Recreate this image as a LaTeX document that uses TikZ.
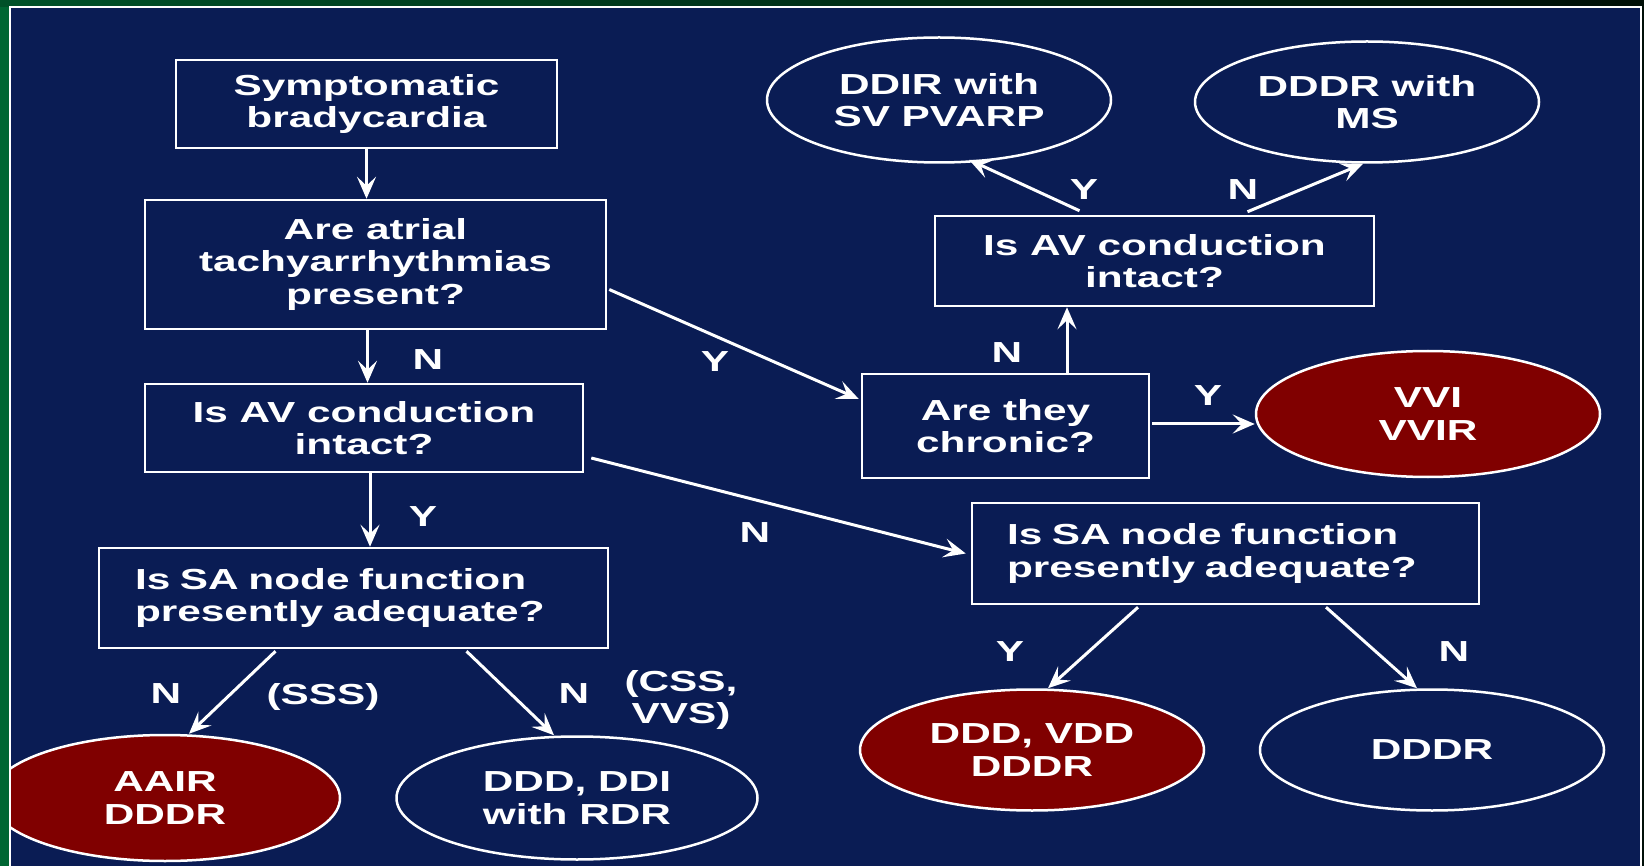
\documentclass[tikz,border=0pt]{standalone}
\usepackage{fontspec}
\newfontfamily\slidefont[FakeStretch=1.46]{Liberation Sans}
\usepackage{xcolor}
\usepackage{tikz}
\usetikzlibrary{positioning,calc,shapes.geometric,arrows.meta}
\definecolor{slidenavy}{RGB}{10,28,84}
\definecolor{slidered}{RGB}{128,0,0}
\definecolor{slidegreen}{RGB}{0,102,51}

\begin{document}
\begin{tikzpicture}[
						x=1pt, y=-1pt,
						every node/.style={
							font=\slidefont\bfseries\fontsize{29}{32.5}\selectfont,
							text=white
						},
						qbox/.style={
							draw=white, line width=2.5pt,
							inner sep=0pt, align=center
						},
						qbox_left/.style={
							qbox, align=left, inner xsep=36pt
						},
						pace/.style={
							ellipse, draw=white, line width=2.5pt,
							inner sep=0pt, align=center,
							minimum width=344pt, minimum height=122pt
						},
						pace_red/.style={
							pace, fill=slidered
						},
						arr/.style={
							draw=white, line width=3pt,
							-{Stealth[length=22pt, width=19pt, inset=9pt]}
						}
						]
						\useasboundingbox (0,0) rectangle (1644,866);
						% === NỀN (slide) ===
						\fill[slidegreen] (0,0) rectangle (1644,866);
						\fill[left color=slidegreen!80!black, right color=slidegreen!15!black] (0,0) rectangle (1644,7);
						\fill[slidegreen!15!black] (1641,0) rectangle (1644,866);
						\fill[slidenavy] (10,7) rectangle (1641,866);
						
						\begin{scope}
							\clip (11,8) rectangle (1640,866);
							
							% === CỘT TRÁI ===
							\node[qbox, minimum width=381pt, minimum height=88pt] (sympt) at (366.5,104) {Symptomatic\\bradycardia};
							\node[qbox, minimum width=461pt, minimum height=129pt] (atrial) at (375.5,264.5) {Are atrial\\tachyarrhythmias\\present?};
							\node[qbox, minimum width=438pt, minimum height=88pt] (avleft) at (364,428) {Is AV conduction\\intact?};
							\node[qbox_left, text width=437pt, minimum height=100pt] (saleft) at (353.5,598) {Is SA node function\\presently adequate?};
							
							% Kết quả trái
							\node[pace_red, minimum width=350pt, minimum height=126pt] (aair) at (165,798) {AAIR\\DDDR};
							\node[pace, minimum width=361pt, minimum height=123pt] (dddi) at (577,798) {DDD, DDI\\with RDR};
							
							% === CỘT PHẢI ===
							\node[qbox, minimum width=287pt, minimum height=104pt] (chronic) at (1005.5,426) {Are they\\chronic?};
							\node[qbox, minimum width=439pt, minimum height=90pt] (avright) at (1154.5,261) {Is AV conduction\\intact?};
							\node[qbox_left, inner xsep=35pt, text width=437pt, minimum height=101pt] (saright) at (1225.5,553.5) {Is SA node function\\presently adequate?};
							
							% Kết quả phải
							\node[pace, minimum height=125pt] (ddir) at (939,100) {DDIR with\\SV PVARP};
							\node[pace, minimum height=121pt] (dddrms) at (1367,102) {DDDR with\\MS};
							\node[pace_red, minimum height=126pt] (vvi) at (1428,414) {VVI\\VVIR};
							\node[pace_red, minimum height=121pt] (dddvdd) at (1032,750) {DDD, VDD\\DDDR};
							\node[pace, minimum height=121pt] (dddr) at (1432,750) {DDDR};
							
							% === MŨI TÊN ===
							\draw[arr] (sympt.south) -- (sympt.south |- atrial.north);
							\draw[arr] ([xshift=-8pt]atrial.south) -- ([xshift=-8pt]atrial.south |- avleft.north);
							\draw[arr] ([xshift=6pt]avleft.south) -- ([xshift=6pt]avleft.south |- saleft.north);
							\draw[arr] ($(saleft.south)+(-78,2)$) -- ($(aair.north)+(24,0)$);
							\draw[arr] ($(saleft.south)+(113,2)$) -- ($(dddi.north)+(-23,0)$);
							\draw[arr] ($(atrial.east)+(2,25)$) -- ($(chronic.west)+(-2,-27)$);
							\draw[arr] ($(avleft.east)+(7,30)$) -- ($(saright.west)+(-5,0)$);
							\draw[arr] ([xshift=61.5pt]chronic.north) -- ([xshift=61.5pt]chronic.north |- avright.south);
							\draw[arr] ($(chronic.east)+(2,-2)$) -- ($(chronic.east -| vvi.west)+(0,-2)$);
							\draw[arr] ($(avright.north)+(-75,-4)$) -- ($(ddir.south)+(30,-4)$);
							\draw[arr] ($(avright.north)+(93,-3)$) -- ($(dddrms.south)+(-4,0)$);
							\draw[arr] ($(saright.south)+(-87.5,2)$) -- ($(dddvdd.north)+(16,0)$);
							\draw[arr] ($(saright.south)+(100.5,2)$) -- ($(dddr.north)+(-15,0)$);
							
							% Nhãn Y / N
							\foreach \nm/\txt/\px/\py in {lblA/N/428/360, lblB/Y/423/517, lblC/N/166/694, lblD/N/574/694,
								lblE/Y/715/362, lblF/N/755/533, lblG/N/1007/353, lblH/Y/1208/396,
								lblI/Y/1084/190, lblJ/N/1243/190, lblK/Y/1010/652, lblL/N/1454/652} {
								\node (\nm) at (\px,\py) {\txt};
							}
							\node (sss) at (323,697) {(SSS)};
							\node[align=center] (cssvvs) at (681,700) {(CSS,\\VVS)};
						\end{scope}
						
						% Viền trắng
						\draw[white, line width=1.5pt] (10,866) -- (10,7) -- (1641,7) -- (1641,866);
						
					\end{tikzpicture}
\end{document}
